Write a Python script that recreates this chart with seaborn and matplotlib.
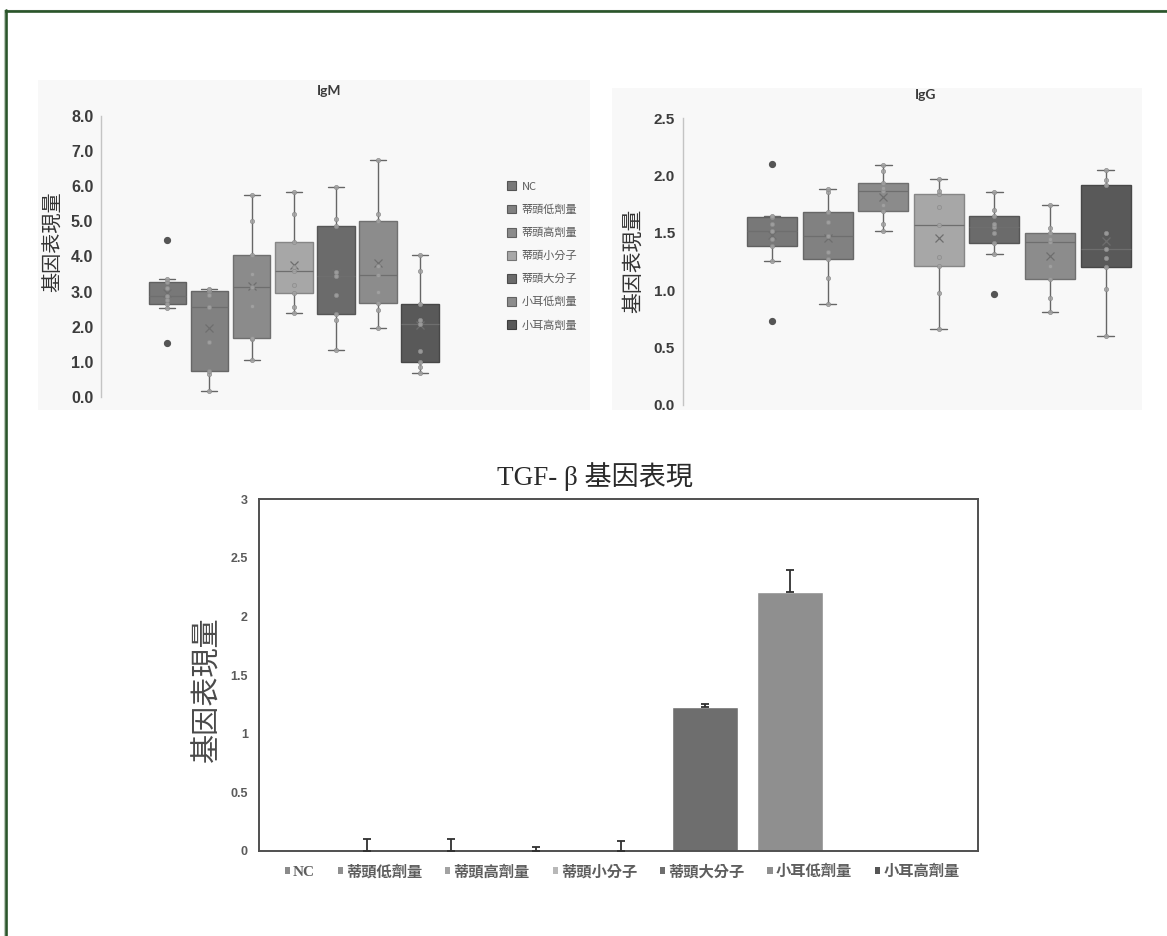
import numpy as np
import pandas as pd
import matplotlib
matplotlib.use("Agg")
import matplotlib.pyplot as plt
from matplotlib.patches import Patch, Rectangle
from matplotlib.lines import Line2D
from matplotlib.font_manager import FontProperties
from matplotlib.colors import to_rgb
import seaborn as sns

# ---------------------------------------------------------------- data
groups = ["NC", "蒂頭低劑量", "蒂頭高劑量", "蒂頭小分子", "蒂頭大分子", "小耳低劑量", "小耳高劑量"]

# individual measurements per group (IgM)
igm_samples = [
    [1.55, 2.53, 2.66, 2.75, 2.88, 3.09, 3.27, 3.35, 4.47],
    [0.18, 0.65, 0.73, 1.56, 2.56, 2.90, 3.02, 3.05, 3.08],
    [1.05, 1.66, 1.69, 2.60, 3.14, 3.50, 4.04, 5.00, 5.76],
    [2.40, 2.55, 2.95, 3.20, 3.59, 3.70, 4.40, 5.21, 5.84],
    [1.33, 2.19, 2.36, 2.90, 3.44, 3.56, 4.87, 5.06, 5.97],
    [1.96, 2.49, 2.69, 3.00, 3.47, 3.72, 5.01, 5.20, 6.75],
    [0.67, 0.85, 0.99, 1.30, 2.08, 2.20, 2.66, 3.60, 4.04],
]

# individual measurements per group (IgG)
igg_samples = [
    [0.735, 1.26, 1.39, 1.45, 1.515, 1.58, 1.64, 1.65, 2.10],
    [0.88, 1.11, 1.27, 1.33, 1.47, 1.60, 1.68, 1.86, 1.88],
    [1.52, 1.58, 1.69, 1.74, 1.87, 1.89, 1.94, 2.04, 2.09],
    [0.66, 0.98, 1.21, 1.29, 1.57, 1.73, 1.84, 1.87, 1.97],
    [0.97, 1.32, 1.41, 1.50, 1.55, 1.58, 1.65, 1.70, 1.86],
    [0.81, 0.93, 1.10, 1.21, 1.42, 1.45, 1.50, 1.54, 1.74],
    [0.60, 1.01, 1.20, 1.28, 1.36, 1.50, 1.92, 1.96, 2.05],
]

# TGF-beta relative expression (mean, upper error)
tgf_mean = [0.0, 0.0, 0.0, 0.0, 1.23, 2.21, 0.0]
tgf_err = [0.10, 0.097, 0.034, 0.085, 0.02, 0.19, 0.0]

igm_ticks = [0, 1, 2, 3, 4, 5, 6, 7, 8]
igg_ticks = [0, 0.5, 1.0, 1.5, 2.0, 2.5]
tgf_ticks = [0, 0.5, 1, 1.5, 2, 2.5, 3]

# ---------------------------------------------------------------- style
box_colors = ["#787878", "#818181", "#8b8b8b", "#a7a7a7", "#6b6b6b", "#8c8c8c", "#595959"]
bar_colors = ["#8a8a8a", "#8f8f8f", "#a2a2a2", "#b8b8b8", "#6e6e6e", "#8f8f8f", "#555555"]

sns.set_theme(style="white")
plt.rcParams["font.family"] = ["Liberation Sans", "Noto Sans CJK TC", "DejaVu Sans"]
CJK = ["Noto Sans CJK TC", "DejaVu Sans"]

W, H = 1167, 936
fig = plt.figure(figsize=(W / 100, H / 100), dpi=100)
fig.patch.set_facecolor("white")


def fx(px):
    return px / W


def fy(py):
    return 1 - py / H


def darker(c, f=0.8):
    r, g, b = to_rgb(c)
    return (r * f, g * f, b * f)


# light panels behind the two box charts
for (x0, y0, x1, y1) in [(38, 80, 590, 410), (612, 88, 1142, 410)]:
    fig.add_artist(Rectangle((fx(x0), fy(y1)), fx(x1 - x0), (y1 - y0) / H,
                             transform=fig.transFigure, facecolor="#f8f8f8",
                             edgecolor="none", zorder=0))

# page frame (top and left)
fig.add_artist(Line2D([fx(4), 1], [fy(9.6), fy(9.6)], transform=fig.transFigure,
                      color="#a8a8a8", lw=0.8))
fig.add_artist(Line2D([fx(5), 1], [fy(11.2), fy(11.2)], transform=fig.transFigure,
                      color="#2a552a", lw=1.9))
fig.add_artist(Line2D([fx(4.3), fx(4.3)], [fy(9.6), 0], transform=fig.transFigure,
                      color="#b8c8b8", lw=0.8))
fig.add_artist(Line2D([fx(6.3), fx(6.3)], [fy(10), 0], transform=fig.transFigure,
                      color="#2a552a", lw=1.9))


def long_frame(samples):
    return pd.DataFrame({
        "group": np.repeat(groups, [len(s) for s in samples]),
        "value": np.concatenate([np.asarray(s, float) for s in samples]),
    })


def inner_frame(samples):
    rows = []
    for g, s in zip(groups, samples):
        a = np.asarray(s, float)
        q1, q3 = np.percentile(a, [25, 75])
        lo, hi = q1 - 1.5 * (q3 - q1), q3 + 1.5 * (q3 - q1)
        rows += [(g, v) for v in a[(a >= lo) & (a <= hi)]]
    return pd.DataFrame(rows, columns=["group", "value"])


def box_panel(ax, samples, capw):
    df = long_frame(samples)
    sns.boxplot(data=df, x="group", y="value", hue="group", order=groups,
                hue_order=groups, palette=box_colors, saturation=1, width=0.9,
                whis=1.5, linewidth=1.0, linecolor="#666666", fliersize=4.2,
                showmeans=True, legend=False, ax=ax, capwidths=capw,
                meanprops=dict(marker="x", markeredgecolor="#6e6e6e",
                               markersize=6, markeredgewidth=0.9),
                flierprops=dict(marker="o", markerfacecolor="#555555",
                                markeredgecolor="#555555"),
                medianprops=dict(color="#6e6e6e", linewidth=0.9))
    for p in ax.patches:
        p.set_edgecolor(darker(p.get_facecolor()[:3], 0.8))
    sns.stripplot(data=inner_frame(samples), x="group", y="value", order=groups,
                  jitter=False, size=3.0, color="#a4a4a4", edgecolor="#8c8c8c",
                  linewidth=0.6, alpha=0.85, ax=ax, zorder=4)
    ax.set_facecolor("none")
    for s in ("top", "right", "bottom"):
        ax.spines[s].set_visible(False)
    ax.spines["left"].set_color("#c4c4c4")
    ax.spines["left"].set_linewidth(1.0)
    ax.set_xticks([])
    ax.set_xlabel("")
    ax.set_ylabel("")


# ---------------------------------------------------------------- IgM
ax1 = fig.add_axes([fx(101), fy(397), fx(478.6 - 101), (397 - 116) / H])
box_panel(ax1, igm_samples, 0.38)
ax1.set_xlim(-1.58, 7.4)
ax1.set_ylim(0, 8)
ax1.set_yticks(igm_ticks, [f"{t:.1f}" for t in igm_ticks], fontweight="bold",
               fontsize=11.5, color="#3c3c3c")
ax1.tick_params(axis="y", length=0, pad=5.5)
fig.text(fx(329), fy(91), "IgM", ha="center", va="center", fontsize=10,
         fontweight="bold", family=["Lato", "DejaVu Sans"], color="#3a3a3a")
fig.text(fx(53), fy(241.5), "基因表現量", rotation=90, ha="center", va="center",
         fontsize=14.5, family=CJK, color="#333333")

legend_handles = [Patch(facecolor=c, edgecolor=darker(c, 0.7), linewidth=0.8)
                  for c in box_colors]
fig.legend(legend_handles, groups, loc="center left",
           bbox_to_anchor=(fx(507), fy(256)), frameon=False, borderpad=0,
           borderaxespad=0, handlelength=0.85, handleheight=0.85,
           handletextpad=0.45, labelspacing=1.15, labelcolor="#5a5a5a",
           prop=FontProperties(family=CJK, size=8))

# ---------------------------------------------------------------- IgG
ax2 = fig.add_axes([fx(683), fy(405), fx(461.5), 286.7 / H])
box_panel(ax2, igg_samples, 0.3)
ax2.set_xlim(-1.6, 6.7)
ax2.set_ylim(0, 2.5)
ax2.set_yticks(igg_ticks, [f"{t:.1f}" for t in igg_ticks], fontweight="bold",
               fontsize=11, color="#3c3c3c")
ax2.tick_params(axis="y", length=0, pad=5.8)
fig.text(fx(926), fy(95), "IgG", ha="center", va="center", fontsize=10,
         fontweight="bold", family=["Lato", "DejaVu Sans"], color="#3a3a3a")
fig.text(fx(632.5), fy(260.5), "基因表現量", rotation=90, ha="center", va="center",
         fontsize=15, family=CJK, color="#333333")

# ---------------------------------------------------------------- TGF-beta
ax3 = fig.add_axes([fx(259), fy(850.7), fx(978 - 259), 351.4 / H])
sns.barplot(x=groups, y=tgf_mean, hue=groups, order=groups, hue_order=groups,
            palette=bar_colors, saturation=1, width=0.78, errorbar=None,
            legend=False, ax=ax3)
err = np.asarray(tgf_err)
pos = np.arange(len(groups))
has_err = err > 0
ax3.errorbar(pos[has_err], np.asarray(tgf_mean)[has_err],
             yerr=[np.zeros(has_err.sum()), err[has_err]], fmt="none",
             ecolor="#303030", elinewidth=1.3, capsize=2.6, capthick=1.3, zorder=5)
ax3.set_xlim(-1.27, 7.22)
ax3.set_ylim(0, 3)
ax3.set_xticks([])
ax3.set_yticks(tgf_ticks, [f"{t:g}" for t in tgf_ticks], fontweight="bold",
               fontsize=9, color="#5a5a5a")
ax3.tick_params(axis="y", length=0, pad=8)
ax3.set_facecolor("white")
for s in ax3.spines.values():
    s.set_visible(True)
    s.set_color("#505050")
    s.set_linewidth(1.4)
ax3.set_xlabel("")
ax3.set_ylabel("")

fig.text(fx(595), fy(477), "TGF- β 基因表現", ha="center", va="center",
         fontsize=19.5, family=["Liberation Serif", "Noto Sans CJK TC"],
         color="#2a2a2a")
fig.text(fx(207.5), fy(689.5), "基因表現量", rotation=90, ha="center", va="center",
         fontsize=21, family=CJK, color="#4a4a4a")

bar_handles = [Patch(facecolor=c, edgecolor="none") for c in bar_colors]
fig.legend(bar_handles, groups, loc="center", ncol=7,
           bbox_to_anchor=(fx(622), fy(872)), frameon=False,
           handlelength=0.34, handleheight=0.34, handletextpad=0.2,
           columnspacing=1.5, labelcolor="#5e5e5e",
           prop=FontProperties(family=["Liberation Serif", "Noto Sans CJK TC"],
                               weight="bold", size=11))

fig.savefig("out.png", dpi=100)
